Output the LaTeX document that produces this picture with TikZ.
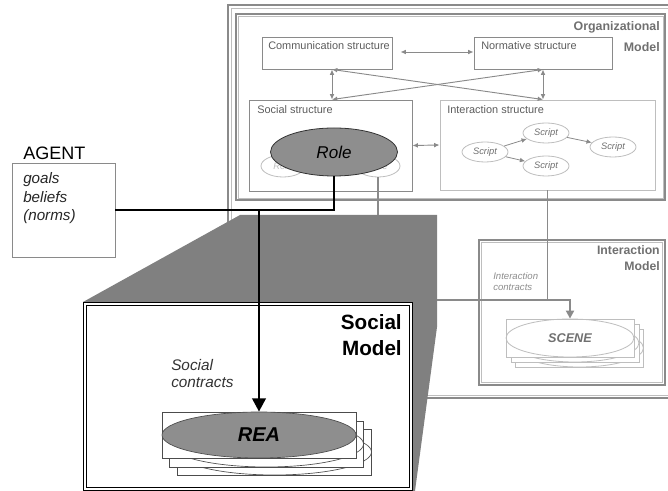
\documentclass[tikz,border=0pt]{standalone}
\usepackage{fontspec}
\setmainfont{Liberation Sans}
\usetikzlibrary{arrows.meta,calc,shapes.geometric,fit}
\definecolor{lg}{HTML}{BEBEBE}
\definecolor{mg}{HTML}{8A8A8A}
\definecolor{dg}{HTML}{707070}
\definecolor{tg}{HTML}{5C5C5C}
\definecolor{fillg}{HTML}{808080}
\definecolor{elg}{HTML}{8E8E8E}
\newcommand\fsz[2]{\fontsize{#1}{#2}\selectfont}
\begin{document}
\begin{tikzpicture}[x=0.75pt,y=-0.75pt,
  structbox/.style={draw=mg,line width=0.7pt,inner sep=0},
  lightbox/.style={draw=lg,line width=0.7pt,inner sep=0},
  lbl/.style={inner sep=0,anchor=west,text=tg,font=\fsz{8.2}{10}},
  bigtitle/.style={inner sep=0,align=right,text=dg,font=\bfseries\fsz{9.3}{15.5}},
  gdarrow/.style={draw=mg,line width=0.7pt,{Latex[length=4pt,width=3.5pt]}-{Latex[length=4pt,width=3.5pt]}},
  sarrow/.style={draw=mg,line width=0.6pt,-{Latex[length=4pt,width=3.5pt]}},
  scriptnode/.style={ellipse,draw=lg,line width=0.6pt,fill=white,minimum width=34.5pt,minimum height=15pt,inner sep=0,text=dg,font=\itshape\fsz{7}{8}},
  smallrole/.style={ellipse,draw=lg,line width=0.6pt,fill=white,minimum width=33pt,minimum height=16.5pt,inner sep=0,text=lg,font=\itshape\fsz{7}{8}},
  blackline/.style={draw=black,line width=2.2pt},
  glineA/.style={draw=mg,line width=1pt},
  reabox/.style={rectangle,draw=black!70,line width=0.5pt,fill=white,minimum width=145.5pt,minimum height=34.5pt,inner sep=0},
  reaell/.style={ellipse,draw=black!70,line width=0.5pt,minimum width=145.5pt,minimum height=34.5pt,inner sep=0},
  scenebox/.style={rectangle,draw=lg,line width=0.6pt,fill=white,minimum width=96pt,minimum height=28.5pt,inner sep=0},
  sceneell/.style={ellipse,draw=lg,line width=0.6pt,minimum width=96pt,minimum height=28.5pt,inner sep=0}
]
\useasboundingbox (0,0) rectangle (668,491);
% Organizational model frame
\node[fit={(228,5) (672,398)},draw=mg,line width=1.5pt,inner sep=0] (orgouter) {};
\node[fit={(231,8) (669,395)},draw=lg,line width=0.6pt,inner sep=0] (orgouter2) {};
\node[fit={(236,14) (665,200)},draw=mg,line width=0.8pt,inner sep=0] (orginner) {};
\node[fit={(238,16) (663,198)},draw=lg,line width=0.5pt,inner sep=0] (orginner2) {};
\node[bigtitle,anchor=east] (orgtitle) at (660,36.5) {Organizational\\Model};
% structures
\node[structbox,fit={(262,37) (392,69)}] (comm) {};
\node[lbl] (commlbl) at (268,46) {Communication structure};
\node[structbox,fit={(474,37) (612,69)}] (norm) {};
\node[lbl] (normlbl) at (481,46) {Normative structure};
\node[structbox,fit={(249,100) (412,191)}] (social) {};
\node[lbl] (sociallbl) at (257,110) {Social structure};
\node[lightbox,fit={(440,100) (655,190)}] (inter) {};
\node[lbl] (interlbl) at (447,110) {Interaction structure};
% arrows between structures
\draw[gdarrow] (comm.east) ++(8,-1) coordinate (ca) -- (norm.west |- ca);
\coordinate (cl) at ($(comm.south)+(5,0)$);
\draw[gdarrow] (cl) -- (cl |- social.north);
\draw[gdarrow] (norm.south) -- (norm.south |- inter.north);
\draw[gdarrow] (cl) -- (norm.south |- inter.north);
\draw[gdarrow] (norm.south) -- (cl |- social.north);
\draw[gdarrow] (social.east) -- (inter.west);
% scripts
\node[scriptnode] (s1) at (485,152) {Script};
\node[scriptnode] (s2) at (546,133) {Script};
\node[scriptnode] (s3) at (546,166) {Script};
\node[scriptnode] (s4) at (613,147) {Script};
\draw[sarrow] (s1) -- (s2);
\draw[sarrow] (s1) -- (s3);
\draw[sarrow] (s2) -- (s4);
% roles
\node[smallrole] (roleL) at (283,166) {Role};
\node[smallrole] (roleR) at (378,166) {Role};
\node[ellipse,draw=black!80,line width=0.6pt,fill=elg,minimum width=95.25pt,minimum height=36pt,inner sep=0,font=\itshape\fsz{12.8}{14}] (role) at (334,152) {Role};
% Interaction model
\node[fit={(479,240) (665,385)},draw=mg,line width=0.9pt,inner sep=0] (imodel) {};
\node[fit={(481.5,242.5) (662.5,382.5)},draw=lg,line width=0.5pt,inner sep=0] (imodel2) {};
\node[inner sep=0,align=right,text=dg,font=\bfseries\fsz{9.2}{12},anchor=east] (imtitle) at (660,258) {Interaction\\Model};
\node[inner sep=0,align=left,text=dg!80,font=\itshape\fsz{7.2}{8.3},anchor=west] (ictext) at (493,282) {Interaction\\contracts};
% scene stack
\node[scenebox] (scene3r) at (579.5,348) {};
\node[sceneell] (scene3e) at (579.5,348) {};
\node[scenebox] (scene2r) at (575,343) {};
\node[sceneell] (scene2e) at (575,343) {};
\node[scenebox] (scener) at (570,338) {};
\node[sceneell,text=dg,font=\bfseries\itshape\fsz{9.5}{11}] (scene) at (570,338) {SCENE};
% perspective trapezoid
\coordinate (traptop) at (240,215);
\fill[fillg] (traptop) -- (437,215) -- (437,327) -- (415,491) -- (83,491) -- (83,302) -- cycle;
% Social model
\node[fit={(85,304) (411,489)},draw=black,double=white,double distance=1.5pt,line width=0.5pt,fill=white,inner sep=0] (smodel) {};
\node[inner sep=0,align=right,font=\bfseries\fsz{15.5}{19.5},anchor=east] (smtitle) at (402,335) {Social\\Model};
\node[inner sep=0,align=left,text=black!80,font=\itshape\fsz{11.5}{12.75},anchor=west] (sctext) at (171,373.5) {Social\\contracts};
% REA stack
\node[reabox] (rea3r) at (274.5,452) {};
\node[reaell] (rea3e) at (274.5,452) {};
\node[reabox] (rea2r) at (266.5,444) {};
\node[reaell] (rea2e) at (266.5,444) {};
\node[reabox] (rear) at (259,435) {};
\node[reaell,fill=elg,font=\bfseries\itshape\fsz{15}{17}] (rea) at (259,435) {REA};
% Agent
\node[inner sep=0,anchor=west,font=\fsz{13.5}{15}] (agentlbl) at (23,153) {AGENT};
\node[fit={(12,163) (115,257)},draw=mg,line width=0.7pt,inner sep=0] (agent) {};
\node[inner sep=0,align=left,anchor=west,text=black!85,font=\itshape\fsz{11.4}{13.9}] (agenttext) at (23,198.5) {goals\\beliefs\\(norms)};
% connectors
\draw[glineA] (roleR.south) -- (roleR.south |- traptop);
\coordinate (hstart) at (437,300);
\draw[glineA] (inter.south) -- (inter.south |- hstart);
\draw[draw=mg,line width=1.4pt,-{Triangle[length=6pt,width=6pt]}] (hstart) -- (hstart -| scene.north) -- (scener.north);
\draw[blackline] (agent.east) -- (agent.east -| role.south) -- (role.south);
\draw[blackline,-{Triangle[length=10pt,width=10pt]}] (agent.east -| rea.north) -- (rear.north);
\end{tikzpicture}
\end{document}
